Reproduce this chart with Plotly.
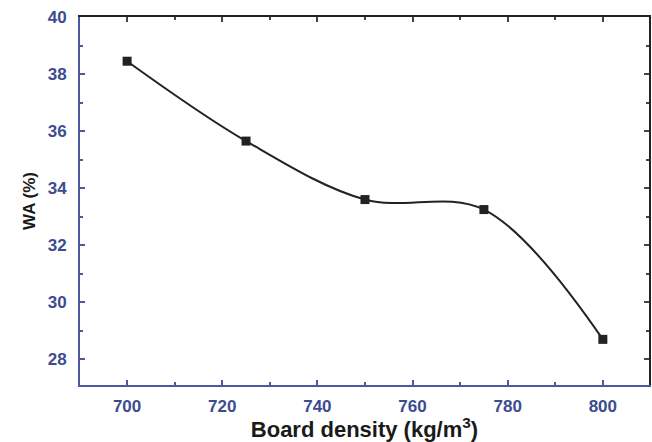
import plotly.graph_objects as go

density = [700, 725, 750, 775, 800]
wa = [38.45, 35.65, 33.6, 33.25, 28.7]

x_ticks = [700, 720, 740, 760, 780, 800]
y_ticks = [28, 30, 32, 34, 36, 38, 40]

blue = "#3d4c8f"
axis_blue = "#4a5a9c"
font_family = "Liberation Sans, Arial, sans-serif"

fig = go.Figure()
fig.add_trace(go.Scatter(
    x=density, y=wa, mode="lines+markers",
    line=dict(shape="spline", smoothing=1.0, color="#222222", width=2),
    marker=dict(symbol="square", size=9, color="#222222"),
    showlegend=False,
))
# invisible trace to activate secondary (top/right) axes
fig.add_trace(go.Scatter(x=[density[0]], y=[wa[0]], xaxis="x2", yaxis="y2",
                         mode="markers", marker=dict(opacity=0), showlegend=False,
                         hoverinfo="skip"))

xr = [690.1, 809.7]
yr = [27.1, 40.0]

fig.update_layout(
    width=652, height=442,
    margin=dict(l=80, r=3, t=17, b=57),
    paper_bgcolor="white", plot_bgcolor="white",
    font=dict(family=font_family),
    xaxis=dict(
        range=xr, tickvals=x_ticks, ticktext=[str(v) for v in x_ticks],
        showgrid=False, zeroline=False,
        showline=True, linecolor=axis_blue, linewidth=2,
        ticks="inside", ticklen=5, tickcolor=axis_blue, tickwidth=1.5,
        minor=dict(ticks="inside", ticklen=3, dtick=10, tick0=700, tickcolor=axis_blue, showgrid=False),
        tickfont=dict(size=17, color=blue, family=font_family, weight="bold"),
        ticklabelstandoff=5,
        title=dict(text="<b>Board density (kg/m<sup>3</sup>)</b>",
                   font=dict(size=22, color="#1a1a1a", family=font_family), standoff=2),
    ),
    yaxis=dict(
        range=yr, tickvals=y_ticks, ticktext=[str(v) for v in y_ticks],
        showgrid=False, zeroline=False,
        showline=True, linecolor=axis_blue, linewidth=2,
        ticks="inside", ticklen=5, tickcolor=axis_blue, tickwidth=1.5,
        minor=dict(ticks="inside", ticklen=3, dtick=1, tick0=28, tickcolor=axis_blue, showgrid=False),
        tickfont=dict(size=17, color=blue, family=font_family, weight="bold"),
        ticklabelstandoff=8,
        title=dict(text="<b>WA (%)</b>",
                   font=dict(size=17, color="#1a1a1a", family=font_family), standoff=8),
    ),
    xaxis2=dict(
        range=xr, overlaying="x", side="top", anchor="y",
        tickvals=x_ticks, showticklabels=False, showgrid=False, zeroline=False,
        showline=True, linecolor="#222222", linewidth=2,
        ticks="inside", ticklen=5, tickcolor="#444444", tickwidth=1.5,
        minor=dict(ticks="inside", ticklen=3, dtick=10, tick0=700, tickcolor="#444444", showgrid=False),
    ),
    yaxis2=dict(
        range=yr, overlaying="y", side="right", anchor="x",
        tickvals=y_ticks, showticklabels=False, showgrid=False, zeroline=False,
        showline=True, linecolor="#222222", linewidth=2,
        ticks="inside", ticklen=5, tickcolor="#444444", tickwidth=1.5,
        minor=dict(ticks="inside", ticklen=3, dtick=1, tick0=28, tickcolor="#444444", showgrid=False),
    ),
)

fig.write_html("out.html")
